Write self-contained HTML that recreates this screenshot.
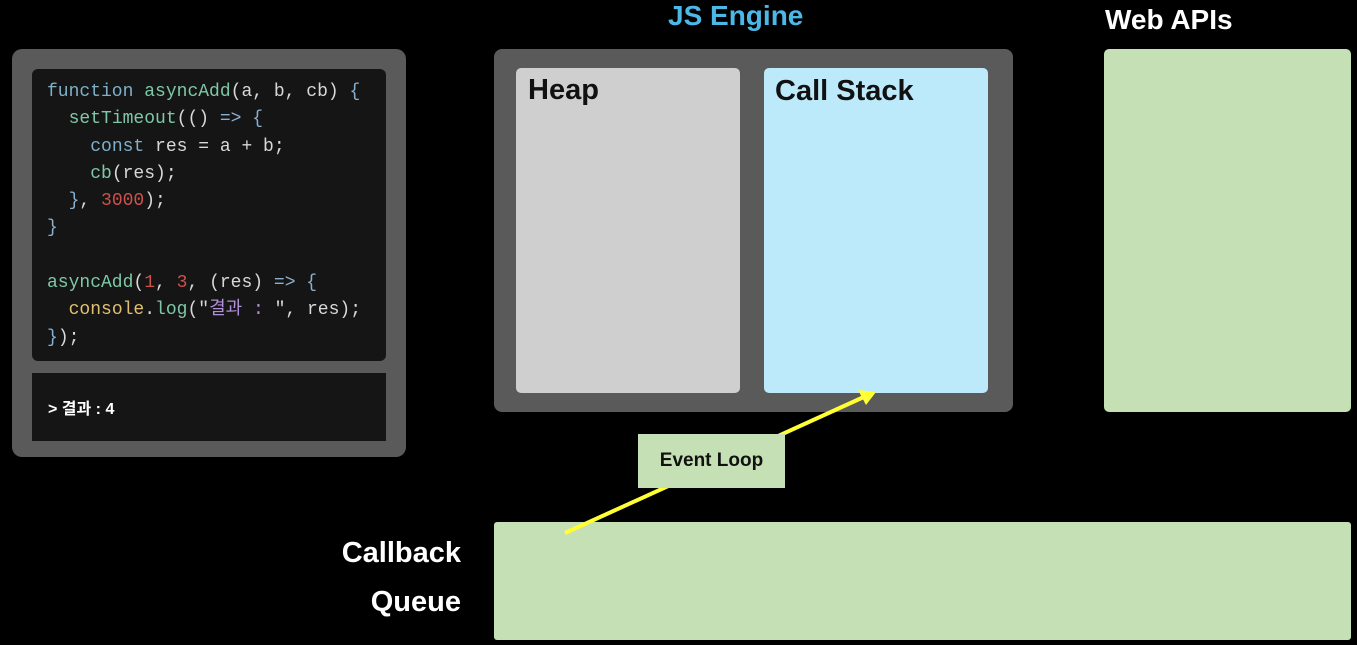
<!DOCTYPE html>
<html><head><meta charset="utf-8"><style>
body{margin:0;width:1357px;height:645px;background:#000;position:relative;overflow:hidden;font-family:"Liberation Sans","Noto Sans CJK KR",sans-serif}
.a{position:absolute}
pre{margin:0;font-family:"Liberation Mono","Noto Sans CJK KR",monospace;font-size:18px;line-height:27.3px;color:#d8d8d8}
.k{color:#7fb0c8}.f{color:#7ec8a8}.n{color:#d0504a}.y{color:#e0c070}.s{color:#b090d8}.p{color:#8ab0d0}
.t{font-weight:bold;color:#fff}
</style></head><body>
<div class="a" style="left:12px;top:49px;width:394px;height:408px;background:#5a5a5a;border-radius:10px"></div>
<div class="a" style="left:32px;top:69px;width:354px;height:292px;background:#151515;border-radius:6px"></div>
<pre class="a" style="left:47px;top:79px"><span class="k">function</span> <span class="f">asyncAdd</span>(a, b, cb) <span class="p">{</span>
  <span class="f">setTimeout</span>(() <span class="p">=&gt; {</span>
    <span class="k">const</span> res = a + b;
    <span class="f">cb</span>(res);
  <span class="p">}</span>, <span class="n">3000</span>);
<span class="p">}</span>

<span class="f">asyncAdd</span>(<span class="n">1</span>, <span class="n">3</span>, (res) <span class="p">=&gt; {</span>
  <span class="y">console</span>.<span class="f">log</span>("<span class="s">결과 : </span>", res);
<span class="p">}</span>);</pre>
<div class="a" style="left:32px;top:373px;width:354px;height:68px;background:#151515"></div>
<div class="a t" style="left:48px;top:395px;font-size:16px">&gt; 결과 : 4</div>

<div class="a" style="left:668px;top:0px;font-size:28px;font-weight:bold;color:#4cb8e8">JS Engine</div>
<div class="a" style="left:494px;top:49px;width:519px;height:363px;background:#5a5a5a;border-radius:8px"></div>
<div class="a" style="left:516px;top:68px;width:224px;height:325px;background:#d0cfcf;border-radius:5px"></div>
<div class="a" style="left:764px;top:68px;width:224px;height:325px;background:#bdeafa;border-radius:5px"></div>
<div class="a t" style="left:528px;top:74px;font-size:29px;color:#111">Heap</div>
<div class="a t" style="left:775px;top:75px;font-size:29px;color:#111">Call Stack</div>

<div class="a t" style="left:1105px;top:4px;font-size:28px">Web APIs</div>
<div class="a" style="left:1104px;top:49px;width:247px;height:363px;background:#c5e0b5;border-radius:5px"></div>

<div class="a" style="left:494px;top:522px;width:857px;height:118px;background:#c5e0b5;border-radius:3px"></div>
<div class="a t" style="left:320px;top:529px;width:141px;text-align:right;font-size:29px;line-height:49px">Callback<br>Queue</div>

<svg class="a" style="left:0;top:0" width="1357" height="645">
<line x1="565" y1="533" x2="866" y2="396" stroke="#ffff33" stroke-width="4"/>
<polygon points="876,392 858,390 866,405" fill="#ffff33"/>
</svg>
<div class="a" style="left:638px;top:434px;width:147px;height:54px;background:#c5e0b5"></div>
<div class="a t" style="left:638px;top:450px;width:147px;text-align:center;font-size:19px;color:#111">Event Loop</div>
</body></html>
